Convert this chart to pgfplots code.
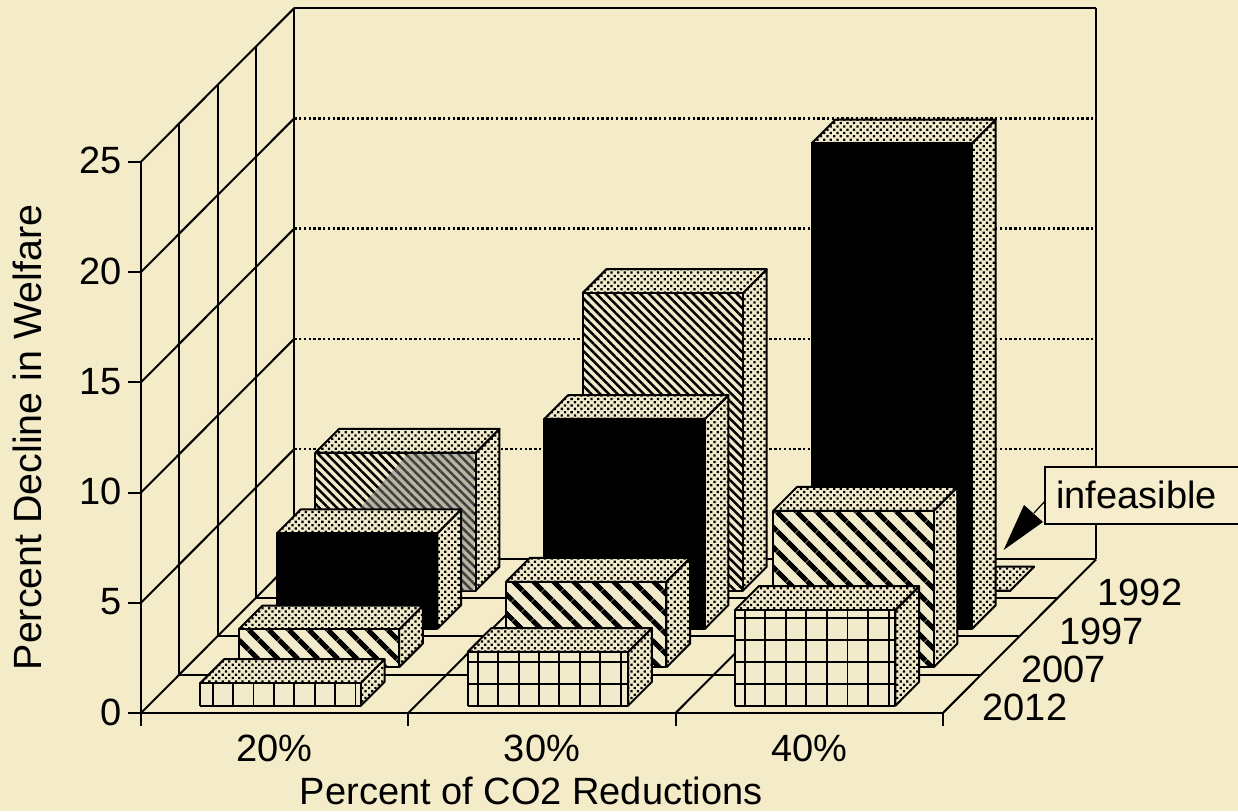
\documentclass[border=0pt]{standalone}
\usepackage{fontspec}
\setmainfont{Liberation Sans}
\usepackage{pgfplots}
\pgfplotsset{compat=1.18}
\usetikzlibrary{patterns.meta}
\definecolor{paper}{HTML}{F4ECC8}
\definecolor{facepaper}{HTML}{F2EBCB}
\definecolor{boxpaper}{HTML}{F5EDCB}
\tikzset{
  stip/.style={pattern={Dots[radius=0.8pt,distance=2.35pt,angle=45]},pattern color=black},
  fine/.style={pattern={Lines[angle=-45,distance=3.1pt,line width=1.25pt]},pattern color=black},
  wide/.style={pattern={Lines[angle=-45,distance=6.9pt,line width=2.6pt]},pattern color=black},
  solid black/.style={fill=black},
  gridlook/.style={},
  bar edge/.style={draw=black,line width=1pt,line join=round}
}
% one face: a paper-coloured base, then its pattern and outline
\newcommand\face[2]{%
  \addplot3[fill=facepaper,draw=none] coordinates {#2};
  \addplot3[#1,bar edge] coordinates {#2};
}
% one bar: x0 x1 y0 y1 height style-of-front
\newcommand\bbar[6]{%
  \face{stip}{(#2,#3,0)(#2,#4,0)(#2,#4,#5)(#2,#3,#5)(#2,#3,0)}
  \face{stip}{(#1,#3,#5)(#2,#3,#5)(#2,#4,#5)(#1,#4,#5)(#1,#3,#5)}
  \face{#6}{(#1,#3,0)(#2,#3,0)(#2,#3,#5)(#1,#3,#5)(#1,#3,0)}
}
\newcommand\seg[2]{\addplot3[black,line width=1pt] coordinates {#1 #2};}
\newcommand\dotseg[2]{\addplot3[black,line width=1.25pt,dash pattern=on 1.2pt off 1.2pt] coordinates {#1 #2};}
\newcommand\gv[2]{\addplot3[black,line width=0.9pt] coordinates {(#1,0.19,0)(#1,0.19,#2)};}
\newcommand\gh[3]{\addplot3[black,line width=1pt] coordinates {(#1,0.19,#3)(#2,0.19,#3)};}
\begin{document}
\begin{tikzpicture}[x=1pt,y=1pt]
\useasboundingbox (0,0) rectangle (619,405.5);
\fill[paper] (0,0) rectangle (619,405.5);
\begin{axis}[
  at={(70.5pt,49pt)},anchor=origin,
  disabledatascaling,
  x={(133.65pt,0pt)},y={(19.15pt,19.2pt)},z={(0pt,11.025pt)},
  xmin=0,xmax=3,ymin=0,ymax=4,zmin=0,zmax=25,
  clip=false,
  axis line style={draw=none},
  tick style={draw=none},
  major tick length=0pt,
  /pgf/number format/assume math mode=true,
  tick label style={font=\fontsize{19}{22}\selectfont},
  ztick pos=left,xtick pos=left,ytick pos=left,
  ztick={0,5,10,15,20,25},
  zticklabel style={anchor=east,xshift=-6pt,yshift=0.5pt},
  xtick={0,1,2,3},xticklabels={},
  extra x ticks={0.5,1.5,2.5},
  extra x tick labels={20\%,30\%,40\%},
  extra x tick style={xticklabel style={anchor=north,yshift=-7.5pt}},
  ytick={0.5,1.5,2.5,3.5},
  yticklabels={2012,2007,1997,1992},
  yticklabel style={xshift=14pt,yshift=10.5pt},
  xlabel={Percent of CO2 Reductions},
  zlabel={Percent Decline in Welfare},
  xlabel style={at={(axis cs:1.46,0,-3.52)},anchor=center,inner sep=0pt,font=\fontsize{19}{22}\selectfont},
  zlabel style={at={(axis cs:-0.425,0,12.5)},anchor=center,inner sep=0pt,font=\fontsize{19.7}{22}\selectfont},
]
% outer tick marks
\seg{(-0.048,0,0)}{(0,0,0)}
\seg{(-0.048,0,5)}{(0,0,5)}
\seg{(-0.048,0,10)}{(0,0,10)}
\seg{(-0.048,0,15)}{(0,0,15)}
\seg{(-0.048,0,20)}{(0,0,20)}
\seg{(-0.048,0,25)}{(0,0,25)}
\seg{(0,0,0)}{(0,0,-0.6)}
\seg{(1,0,0)}{(1,0,-0.6)}
\seg{(2,0,0)}{(2,0,-0.6)}
\seg{(3,0,0)}{(3,0,-0.6)}
% walls and floor
\seg{(0,0,25)}{(0,4,25)}
\seg{(0,4,25)}{(3,4,25)}
\seg{(3,4,25)}{(3,4,0)}
\seg{(0,0,0)}{(0,0,25)}
\seg{(0,1,0)}{(0,1,25)}
\seg{(0,2,0)}{(0,2,25)}
\seg{(0,3,0)}{(0,3,25)}
\seg{(0,4,0)}{(0,4,25)}
\seg{(0,0,5)}{(0,4,5)}
\seg{(0,0,10)}{(0,4,10)}
\seg{(0,0,15)}{(0,4,15)}
\seg{(0,0,20)}{(0,4,20)}
\dotseg{(0,4,5)}{(3,4,5)}
\dotseg{(0,4,10)}{(3,4,10)}
\dotseg{(0,4,15)}{(3,4,15)}
\dotseg{(0,4,20)}{(3,4,20)}
\seg{(0,0,0)}{(3,0,0)}
\seg{(0,1,0)}{(3,1,0)}
\seg{(0,2,0)}{(3,2,0)}
\seg{(0,3,0)}{(3,3,0)}
\seg{(0,4,0)}{(3,4,0)}
\seg{(0,0,0)}{(0,4,0)}
\seg{(1,0,0)}{(1,4,0)}
\seg{(2,0,0)}{(2,4,0)}
\seg{(3,0,0)}{(3,4,0)}
% 1992
\bbar{2.195}{2.795}{3.19}{3.81}{0}{stip}
\bbar{0.195}{0.795}{3.19}{3.81}{6.25}{fine}
\addplot3[fill=gray,fill opacity=0.5,draw=none] coordinates {(0.541,3.19,6.2)(0.79,3.19,6.2)(0.79,3.19,0)(0.362,3.19,0)(0.362,3.19,3.74)};
\bbar{1.195}{1.795}{3.19}{3.81}{13.49}{fine}
% 1997
\bbar{0.195}{0.795}{2.19}{2.81}{4.34}{solid black}
\bbar{1.195}{1.795}{2.19}{2.81}{9.52}{solid black}
\bbar{2.195}{2.795}{2.19}{2.81}{22.02}{solid black}
% 2007
\bbar{0.195}{0.795}{1.19}{1.81}{1.72}{wide}
\bbar{1.195}{1.795}{1.19}{1.81}{3.88}{wide}
\bbar{2.195}{2.795}{1.19}{1.81}{7.10}{wide}
% 2012
\bbar{0.195}{0.795}{0.19}{0.81}{1.03}{gridlook}
\bbar{1.195}{1.795}{0.19}{0.81}{2.44}{gridlook}
\bbar{2.195}{2.795}{0.19}{0.81}{4.34}{gridlook}
\gv{0.241}{1.03}\gv{0.317}{1.03}\gv{0.394}{1.03}\gv{0.470}{1.03}\gv{0.546}{1.03}\gv{0.623}{1.03}\gv{0.699}{1.03}\gv{0.775}{1.03}
\gv{1.233}{2.44}\gv{1.309}{2.44}\gv{1.386}{2.44}\gv{1.462}{2.44}\gv{1.538}{2.44}\gv{1.615}{2.44}\gv{1.691}{2.44}\gv{1.767}{2.44}
\gv{2.231}{4.34}\gv{2.308}{4.34}\gv{2.385}{4.34}\gv{2.462}{4.34}\gv{2.539}{4.34}\gv{2.616}{4.34}\gv{2.693}{4.34}\gv{2.770}{4.34}
\gh{1.195}{1.795}{1}\gh{1.195}{1.795}{2}
\gh{2.195}{2.795}{1}\gh{2.195}{2.795}{2}\gh{2.195}{2.795}{3}\gh{2.195}{2.795}{4}
\end{axis}
% callout
\fill[boxpaper] (522.5,143.5) rectangle (619,172);
\draw[black,line width=0.8pt] (619,172) -- (522.5,172) -- (522.5,143.5) -- (619,143.5);
\fill[black] (501.8,130.5) -- (512,153) -- (521.5,144.5) -- cycle;
\draw[black,line width=0.6pt] (517,149) -- (522.5,155);
\node[anchor=west,inner sep=0pt,font=\fontsize{19}{22}\selectfont] at (528,158) {infeasible};
\end{tikzpicture}
\end{document}
